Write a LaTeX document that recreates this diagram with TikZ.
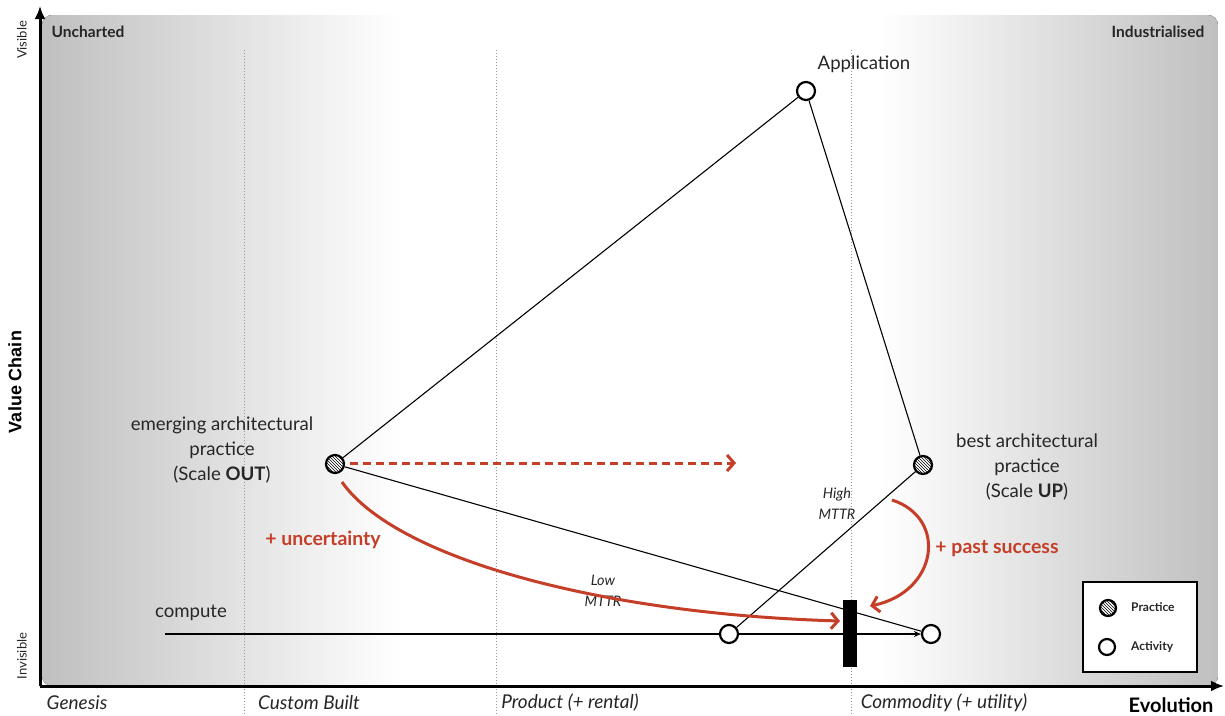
\documentclass[tikz,border=0pt]{standalone}
\usepackage{fontspec}
\setmainfont{Lato}
\newfontfamily\arialfont{Liberation Sans}
\usetikzlibrary{arrows.meta,patterns}
\definecolor{wred}{RGB}{196,62,40}
\begin{document}
\begin{tikzpicture}[x=1pt,y=-1pt,
  activity/.style={circle, draw, line width=2.2pt, fill=white, minimum size=18pt, inner sep=0pt},
  practice/.style={circle, draw, line width=2.2pt, preaction={fill=white}, pattern=north west lines, minimum size=18pt, inner sep=0pt},
  link/.style={line width=1.1pt},
  redarrow/.style={wred, line width=3pt, -{Straight Barb[length=7pt,width=16pt]}},
  lbl/.style={inner sep=0pt, font=\fontsize{18.6}{25}\selectfont, text=black!85},
  itl/.style={inner sep=0pt, font=\fontsize{19}{22}\selectfont\itshape, text=black!85},
  small/.style={inner sep=0pt, font=\fontsize{14.5}{21}\selectfont\itshape, text=black!85, align=center},
  redlbl/.style={inner sep=0pt, font=\fontsize{19.5}{22}\selectfont\bfseries, text=wred},
  zone/.style={inner sep=0pt, font=\fontsize{15.5}{18}\selectfont\bfseries, text=black!85},
  legtxt/.style={inner sep=0pt, anchor=west, font=\fontsize{12}{14}\selectfont\bfseries, text=black!85},
  axis/.style={line width=3pt, -{Latex[length=13pt,width=11pt]}},
  divider/.style={black!40, dotted, line width=1pt}
]
\useasboundingbox (0,0) rectangle (1225,715);
% background
\begin{scope}
\clip[rounded corners=10pt] (42,15) rectangle (1218,686);
\fill[left color=black!25, right color=white] (42,15) rectangle (400,686);
\fill[left color=white, right color=black!25] (880,15) rectangle (1218,686);
\end{scope}
% dividers
\draw[divider] (244,50) -- (244,715);
\draw[divider] (496,50) -- (496,715);
\draw[divider] (851,50) -- (851,715);
% axes
\coordinate (origin) at (40,686);
\coordinate (ytip) at (40,6);
\coordinate (xtip) at (1224,686);
\draw[axis] (origin) -- (ytip);
\draw[axis] (origin) -- (xtip);
% axis labels
\node[zone] (unch) at (88,32) {Uncharted};
\node[zone] (indus) at (1158,32) {Industrialised};
\node[inner sep=0pt, rotate=90, font=\fontsize{13}{15}\selectfont, text=black!85] (vis) at (22,40) {Visible};
\node[inner sep=0pt, rotate=90, font=\fontsize{13}{15}\selectfont, text=black!85] (invis) at (22,656) {Invisible};
\node[inner sep=0pt, rotate=90, font=\arialfont\fontsize{18}{20}\selectfont\bfseries] (vchain) at (15,382) {Value Chain};
\node[itl] (gen) at (77,703) {Genesis};
\node[itl] (cust) at (309,703) {Custom Built};
\node[itl] (prod) at (570,703) {Product (+ rental)};
\node[itl] (comm) at (944,703) {Commodity (+ utility)};
\node[inner sep=0pt, font=\fontsize{20}{22}\selectfont\bfseries] (evo) at (1171,705) {Evolution};
% components
\node[activity] (app) at (806,91) {};
\node[lbl] (apptxt) at (864,64) {Application};
\node[practice] (emerg) at (335,464) {};
\node[lbl, align=center] (emtxt) at (222,450) {emerging architectural\\practice\\(Scale \textbf{OUT})};
\node[practice] (best) at (923,465) {};
\node[lbl, align=center] (besttxt) at (1027,467) {best architectural\\practice\\(Scale \textbf{UP})};
\node[activity] (c1) at (729,634) {};
\node[activity] (c2) at (931,634) {};
\coordinate (cstart) at (165,634);
\node[lbl, anchor=base] (comptxt) at (191,617) {compute};
% links
\draw[link] (emerg) -- (app);
\draw[link] (best) -- (app);
\draw[link] (emerg) -- (c2);
\draw[link] (best) -- (c1);
\draw[link] (cstart) -- (c1);
\draw[link, -{Stealth[length=7pt,width=6pt]}] (c1) -- (c2);
\node[small] (high) at (837,504) {High\\MTTR};
\node[small] (low) at (603,591) {Low\\MTTR};
% barrier
\node[fill=black, minimum width=14pt, minimum height=67pt, inner sep=0pt] (bar) at (850,633) {};
% red arrows
\coordinate (dashstart) at (350,463);
\coordinate (dashend) at (736,463);
\draw[redarrow, dash pattern=on 8pt off 5pt] (dashstart) -- (dashend);
\coordinate (u0) at (342,482);
\coordinate (u1) at (840,621);
\draw[redarrow] (u0) .. controls (395,558) and (600,614) .. (u1);
\node[redlbl] (unc) at (323,540) {+ uncertainty};
\coordinate (p0) at (892,500);
\coordinate (p1) at (870,606);
\draw[redarrow] (p0) .. controls (948,518) and (938,592) .. (p1);
\node[redlbl] (past) at (997,549) {+ past success};
% legend
\node[draw, line width=1.5pt, fill=white, minimum width=114pt, minimum height=90pt, inner sep=0pt] (legend) at (1140,627) {};
\node[practice, minimum size=16pt] (lp) at (1108,608) {};
\node[activity, minimum size=16pt] (la) at (1107,647) {};
\node[legtxt] (lpt) at (1131,607) {Practice};
\node[legtxt] (lat) at (1131,647) {Activity};
\end{tikzpicture}
\end{document}
